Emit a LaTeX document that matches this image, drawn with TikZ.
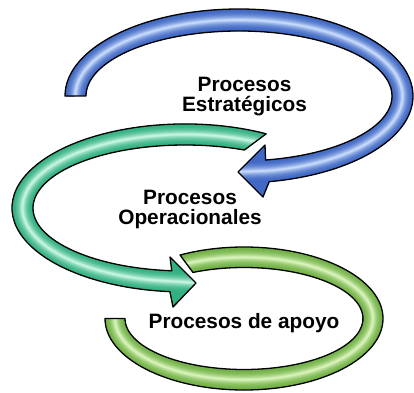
\documentclass[tikz,border=0pt]{standalone}
\usepackage{fontspec}
\setmainfont{Liberation Sans}
\begin{document}
\begin{tikzpicture}[x=1pt,y=1pt]
\useasboundingbox (0,0) rectangle (414,392);
\definecolor{blueBase}{RGB}{64,104,196}
\definecolor{blueLight}{RGB}{196,216,250}
\definecolor{tealBase}{RGB}{50,176,128}
\definecolor{tealLight}{RGB}{196,244,224}
\definecolor{greenBase}{RGB}{112,176,68}
\definecolor{greenLight}{RGB}{214,242,184}
\tikzset{
  outline/.style={draw=black,line width=1.3pt,line join=round},
  lbl/.style={font=\fontsize{20.8}{20}\selectfont\bfseries,align=center,inner sep=0pt},
}
% band outlines: outer arc, arrow head, inner arc back to the tail
\def\bandblue{(65,296) arc[start angle=180,end angle=-80,x radius=174,y radius=87]
  -- (263,195) -- (238,220) -- (265,247) -- (265.57,231.99)
  arc[start angle=-80,end angle=180,x radius=153,y radius=65] -- cycle}
\def\bandteal{(266.2,258.2) arc[start angle=62,end angle=265,x radius=173,y radius=84]
  -- (173,85) -- (196,109) -- (170,135) -- (171.75,121.24)
  arc[start angle=265,end angle=67,x radius=152,y radius=63] -- cycle}
\def\bandgreen{(105,73.5) arc[start angle=180,end angle=477.4,x radius=139,y radius=71.5]
  -- (192.96,119.57)
  arc[start angle=475.4,end angle=180,x radius=119,y radius=51] -- cycle}
% centre lines used for the tube shading
\def\midblue{(239,296) ++(190:163.5 and 76) arc[start angle=190,end angle=-80,x radius=163.5,y radius=76] -- (234,220)}
\def\midteal{(185,184) ++(55:162.5 and 73.5) arc[start angle=55,end angle=265,x radius=162.5,y radius=73.5] -- (200,109)}
\def\midgreen{(244,73.5) ++(170:129 and 61.25) arc[start angle=170,end angle=485,x radius=129,y radius=61.25]}

% tube: base fill, then lighter strokes along the centre line
\newcommand{\tube}[4]{%
  \fill[#2] #1;
  \begin{scope}
    \clip #1;
    \foreach \k in {0,...,14}{
      \pgfmathsetmacro{\w}{24*(1-\k/15)}
      \pgfmathsetmacro{\p}{100*(\k/14)^2.4}
      \draw[line width=\w pt,color=#3!\p!#2] #4;
    }
  \end{scope}
  \path[outline] #1;
}

\tube{\bandgreen}{greenBase}{greenLight}{\midgreen}
\tube{\bandteal}{tealBase}{tealLight}{\midteal}
\tube{\bandblue}{blueBase}{blueLight}{\midblue}

\node[lbl] (strat) at (244.5,295.2) {Procesos\\Estratégicos};
\node[lbl] (oper) at (190,182.2) {Procesos\\Operacionales};
\node[lbl,anchor=base] (apoyo) at (244,64) {Procesos de apoyo};
\end{tikzpicture}
\end{document}
